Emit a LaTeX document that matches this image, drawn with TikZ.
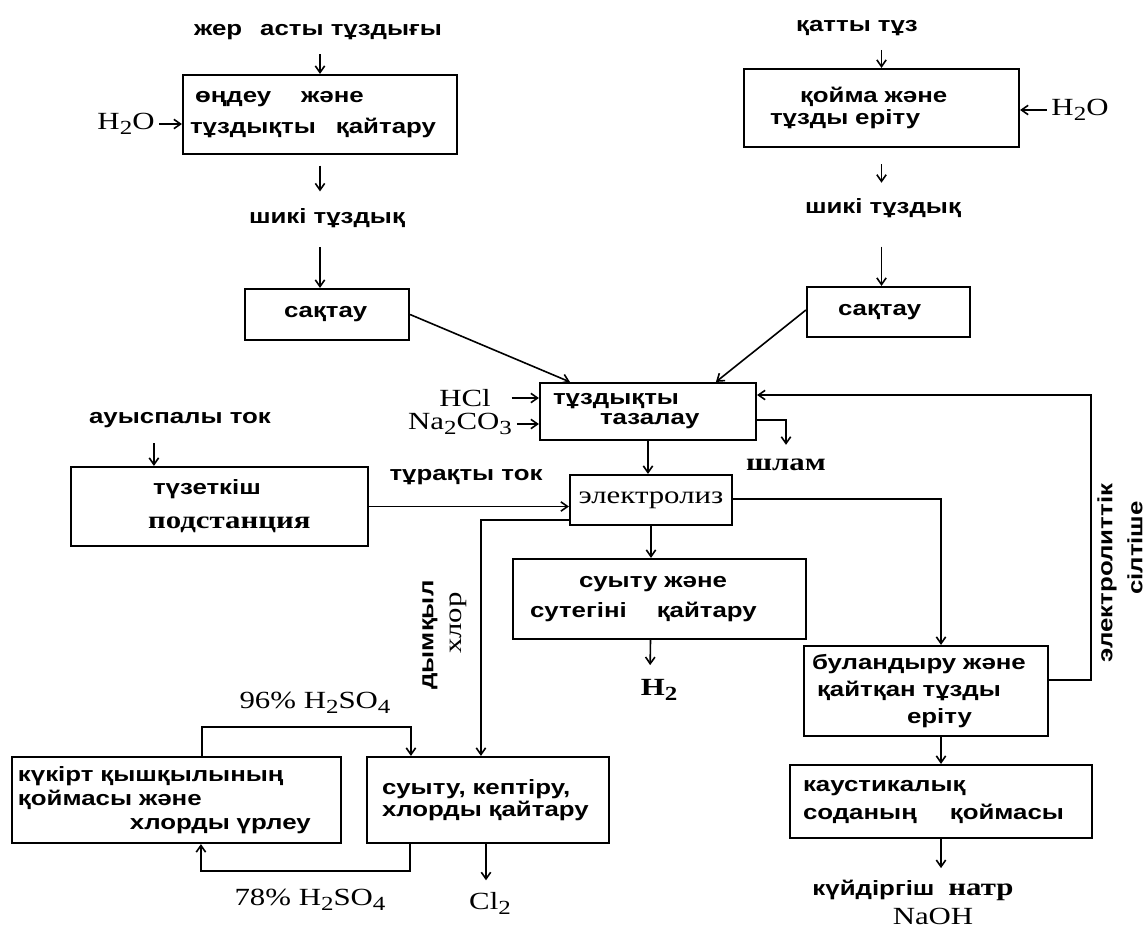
\documentclass[tikz,border=0pt]{standalone}
\usepackage{fontspec}
\newfontfamily\kzsans[FakeStretch=1.25]{Liberation Sans}
\newfontfamily\kzserif[FakeStretch=1.25]{Liberation Serif}
\usetikzlibrary{arrows.meta,calc}
\newdimen\unitpx \unitpx=0.75pt
\newcommand\dn[1]{\raisebox{-0.45ex}{\fontsize{15}{15}\selectfont #1}}
\tikzset{every picture/.style={line width=0.75pt}}

\begin{document}
\begin{tikzpicture}[x=0.75pt,y=0.75pt,yscale=-1,xscale=1,
  box/.style n args={3}{draw, line width=1.6pt, inner xsep=0pt, inner ysep=0pt, text width=#1\unitpx, minimum height=#2*0.75pt, align=left, font=\kzsans\bfseries\fontsize{15.5}{#3}\selectfont},
  lbl/.style={font=\kzsans\bfseries\fontsize{15.5}{18}\selectfont},
  chem/.style={font=\kzserif\fontsize{18.5}{22}\selectfont},
  chemb/.style={font=\kzserif\bfseries\fontsize{18.5}{22}\selectfont},
  arr/.style={line width=1.2pt, -{Straight Barb[length=5pt,width=7pt]}}]
	%set diagram size 1145 x 933
	\fill[white] (0,0) rectangle (1145,933);
	\useasboundingbox (0,0) rectangle (1145,933);

	% Text Node
	\node[lbl] (top1) at (318,32) {жер\hspace{18\unitpx}асты тұздығы};
	% Text Node
	\node[lbl] (qatty) at (857,28) {қатты тұз};
	%Shape: Rectangle
	\node[box={274}{79}{23}] (ondeu) at (320,114.5) {\hspace*{12\unitpx}өңдеу\hspace{30\unitpx}және\\\hspace*{7\unitpx}тұздықты\hspace{20\unitpx}қайтару};
	%Shape: Rectangle
	\node[box={275}{78}{17}] (qoima) at (881.5,108) {\hspace*{56\unitpx}қойма және\\\hspace*{26\unitpx}тұзды еріту};
	% Text Node
	\node[chem] (suA) at (126,124) {H\dn{2}O};
	% Text Node
	\node[chem] (suB) at (1080,110) {H\dn{2}O};
	% Text Node
	\node[lbl] (shikiA) at (327,218) {шикі тұздық};
	% Text Node
	\node[lbl] (shikiB) at (883,208) {шикі тұздық};
	%Shape: Rectangle
	\node[box={164}{51}{20}] (saktauA) at (327,314.5) {\hspace*{39\unitpx}сақтау};
	%Shape: Rectangle
	\node[box={163}{50}{20}] (saktauB) at (888.5,312) {\hspace*{31\unitpx}сақтау};
	%Shape: Rectangle
	\node[box={216}{57}{15}] (tazalau) at (648,411.5) {\hspace*{13\unitpx}тұздықты\\\hspace*{60\unitpx}тазалау};
	% Text Node
	\node[chem] (hcl) at (465,398) {HCl};
	% Text Node
	\node[chem] (soda) at (460,424) {Na\dn{2}CO\dn{3}};
	% Text Node
	\node[chemb] (shlam) at (786,465) {шлам};
	% Text Node
	\node[lbl] (auys) at (180,420) {ауыспалы ток};
	%Shape: Rectangle
	\node[box={297}{79}{25.5}] (tuzet) at (219.5,506.5) {\hspace*{82\unitpx}түзеткіш\\\hspace*{77\unitpx}{\kzserif\fontsize{18.5}{20}\selectfont подстанция}};
	% Text Node
	\node[lbl] (turaq) at (466,477) {тұрақты ток};
	%Shape: Rectangle
	\node[box={162}{50}{20}, align=center, font=\kzserif\fontsize{18.5}{22}\selectfont] (elektroliz) at (651,500) {электролиз};
	%Shape: Rectangle
	\node[box={293}{80}{22.5}] (suyt) at (659.5,599) {\hspace*{66\unitpx}суыту және\\\hspace*{17\unitpx}сутегіні\hspace{30\unitpx}қайтару};
	% Text Node
	\node[chemb] (h2) at (659,690) {H\dn{2}};
	%Shape: Rectangle
	\node[box={244}{90}{20}] (bulan) at (926,691) {\hspace*{8\unitpx}буландыру және\\\hspace*{13\unitpx}қайтқан тұзды\\\hspace*{103\unitpx}еріту};
	% Text Node
	\node[lbl, rotate=90] (elit) at (1107,573) {электролиттік};
	% Text Node
	\node[lbl, rotate=90] (silt) at (1135,548) {сілтіше};
	% Text Node
	\node[lbl, rotate=90] (dymq) at (430,635) {дымқыл};
	% Text Node
	\node[chem, rotate=90] (xlor) at (458,623) {хлор};
	%Shape: Rectangle
	\node[box={329}{86}{18}] (kukirt) at (176.5,800) {\hspace*{6\unitpx}күкірт қышқылының\\\hspace*{6\unitpx}қоймасы және\\\hspace*{118\unitpx}хлорды үрлеу};
	%Shape: Rectangle
	\node[box={242}{86}{17}] (kept) at (488,800) {\hspace*{15\unitpx}суыту, кептіру,\\\hspace*{15\unitpx}хлорды қайтару};
	% Text Node
	\node[chem] (acid96) at (315,703) {96\% H\dn{2}SO\dn{4}};
	% Text Node
	\node[chem] (acid78) at (310,900) {78\% H\dn{2}SO\dn{4}};
	% Text Node
	\node[chem] (cl2) at (490,903) {Cl\dn{2}};
	%Shape: Rectangle
	\node[box={302}{73}{21}] (kaus) at (941,801.5) {\hspace*{13\unitpx}каустикалық\\\hspace*{13\unitpx}соданың\hspace{33\unitpx}қоймасы};
	% Text Node
	\node[lbl] (naoh1) at (913,890) {күйдіргіш\hspace{14\unitpx}{\kzserif\fontsize{18.5}{22}\selectfont натр}};
	% Text Node
	\node[chem] (naoh2) at (933,916) {NaOH};

	\coordinate (tuzin) at ($(tuzet.north west)+(84,0)$);
	\coordinate (cl2in) at ($(cl2.north)+(-4,0)$);

	%Straight Lines
	\draw[arr, shorten <=7pt] (top1.south -| ondeu.north) -- (ondeu.north);
	\draw[arr] (suA.east) -- (suA.east -| ondeu.west);
	\draw[arr, shorten <=8pt, shorten >=9pt] (ondeu.south) -- (ondeu.south |- shikiA.north);
	\draw[arr, shorten <=11pt] (shikiA.south -| ondeu.south) -- (saktauA.north -| ondeu.south);
	\draw[arr, shorten <=7pt] (qatty.south -| qoima.north) -- (qoima.north);
	\draw[arr] (suB.west) -- (suB.west -| qoima.east);
	\draw[arr, shorten <=12pt, shorten >=8pt] (qoima.south) -- (qoima.south |- shikiB.north);
	\draw[arr, shorten <=18pt] (shikiB.south -| qoima.south) -- (saktauB.north -| qoima.south);
	\draw[arr] (saktauA.east) -- ($(tazalau.north west)+(31,0)$);
	\draw[arr] ($(saktauB.west)+(0,-2)$) -- ($(tazalau.north west)+(177,0)$);
	\draw[arr, shorten <=12pt] (hcl.east) -- (hcl.east -| tazalau.west);
	\draw[arr] (soda.east) -- (soda.east -| tazalau.west);
	\draw[arr, shorten >=7pt] ($(tazalau.east)+(0,8.5)$) -| (shlam.north);
	\draw[arr] (tazalau.south) -- (tazalau.south |- elektroliz.north);
	\draw[arr, shorten <=8pt] (auys.south -| tuzin) -- (tuzin);
	\draw[arr] (tuzet.east) -- (tuzet.east -| elektroliz.west);
	\draw[arr] (elektroliz.south) -- (elektroliz.south |- suyt.north);
	\draw[arr, shorten >=7pt] ($(suyt.south)+(-9,0)$) -- ($(h2.north)+(-9,0)$);
	\draw[arr] ($(elektroliz.east)+(0,-1)$) -| ($(bulan.north)+(15,0)$);
	\draw[arr] ($(elektroliz.west)+(0,20)$) -| ($(kept.north west)+(115,0)$);
	\draw[arr] ($(bulan.east)+(0,-11)$) -| ($(tazalau.east)+(334,-16.5)$) -- ($(tazalau.east)+(0,-16.5)$);
	\draw[arr] (bulan.south -| kaus.north) -- (kaus.north);
	\draw[arr, shorten >=5pt] (kaus.south) -- (kaus.south |- naoh1.north);
	\draw[arr] ($(kukirt.north west)+(191,0)$) -- ++(0,-29) -| ($(kept.north west)+(45,0)$);
	\draw[arr] ($(kept.south west)+(44,0)$) -- ++(0,27) -| ($(kukirt.south west)+(190,0)$);
	\draw[arr, shorten >=5pt] (kept.south -| cl2in) -- (cl2in);

\end{tikzpicture}
\end{document}
